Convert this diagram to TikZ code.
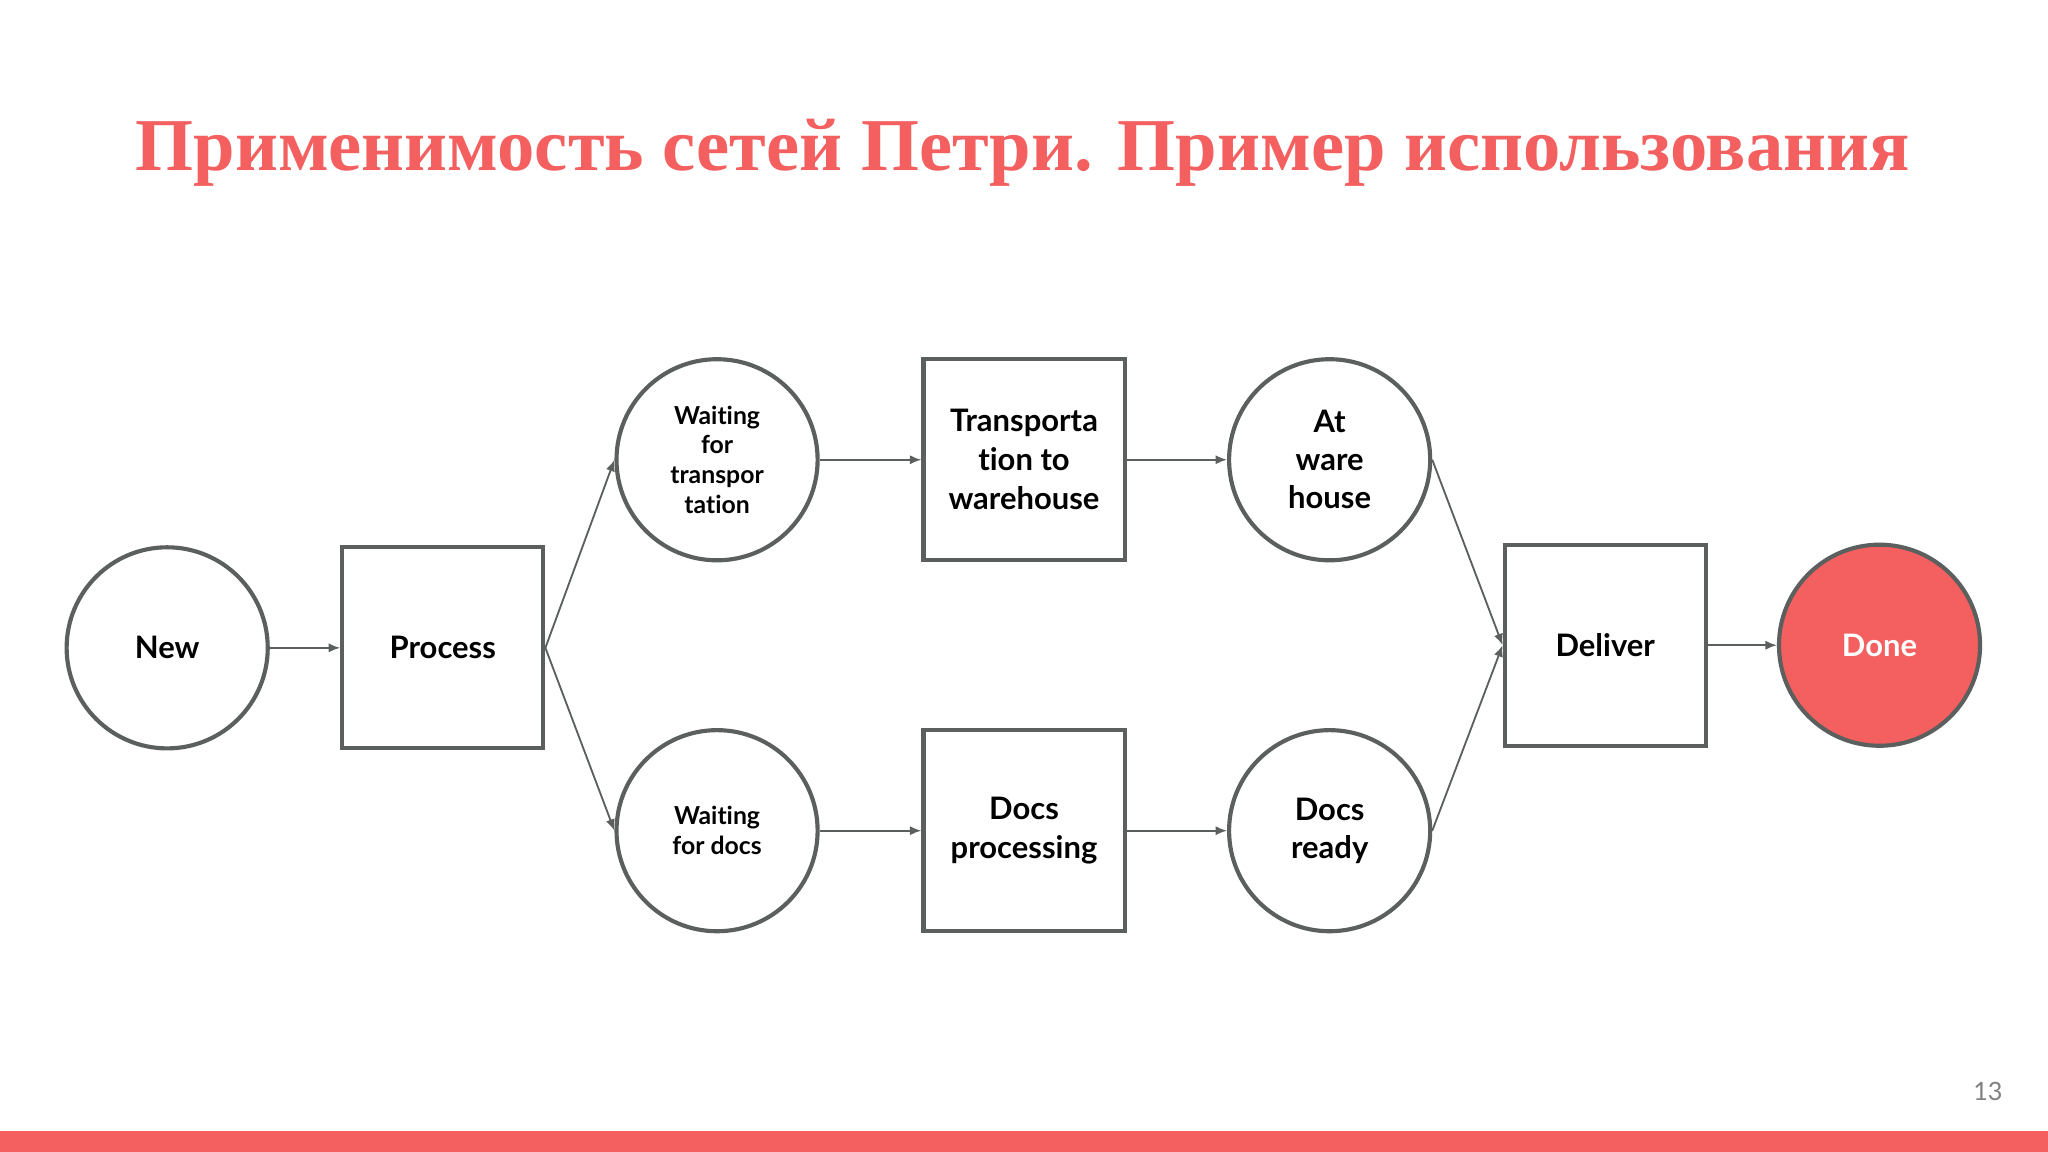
\documentclass[tikz,border=0pt]{standalone}
\usepackage{fontspec}
\setmainfont[Ligatures={NoCommon}]{Lato}
\newfontfamily\titlefont{Liberation Serif}
\usetikzlibrary{arrows.meta}
\definecolor{accent}{HTML}{F45F5F}
\definecolor{edge}{HTML}{5B5F5E}
\tikzset{
  place/.style={circle,draw=edge,line width=1.8pt,minimum size=3.08cm,inner sep=0pt,align=center,font=\bfseries\fontsize{13.5}{16.5}\selectfont},
  trans/.style={rectangle,draw=edge,line width=1.8pt,minimum size=3.08cm,inner sep=0pt,align=center,font=\bfseries\fontsize{13.5}{17}\selectfont},
  small/.style={font=\bfseries\fontsize{10.8}{13}\selectfont},
  arr/.style={draw=edge,line width=0.8pt,-{Latex[length=5pt,width=4pt]}}
}
\begin{document}
\begin{tikzpicture}[x=0.02cm,y=-0.02cm]
\useasboundingbox (0,0) rectangle (1568,882);
\fill[white] (0,0) rectangle (1568,882);
\fill[accent] (0,866) rectangle (1568,882);
\node[text=accent,font=\titlefont\bfseries\fontsize{32.5}{40}\selectfont] (title) at (783,117) {Применимость сетей Петри. Пример использования};
\node[text=gray,font=\fontsize{11}{13}\selectfont] (pg) at (1522,836) {13};
\node[place] (new) at (128,496) {New};
\node[trans] (proc) at (339,496) {Process};
\node[place,small] (wt) at (549,352) {Waiting\\for\\transpor\\tation};
\node[place,small] (wd) at (549,636) {Waiting\\for docs};
\node[trans] (tw) at (784,352) {Transporta\\tion to\\warehouse};
\node[trans] (dp) at (784,636) {Docs\\processing};
\node[place] (aw) at (1018,352) {At\\ware\\house};
\node[place] (dr) at (1018,636) {Docs\\ready};
\node[trans] (del) at (1229,494) {Deliver};
\node[place,fill=accent,text=white] (done) at (1439,494) {Done};
\draw[arr] (new) -- (proc);
\draw[arr] (proc.east) -- (wt.west);
\draw[arr] (proc.east) -- (wd.west);
\draw[arr] (wt) -- (tw);
\draw[arr] (wd) -- (dp);
\draw[arr] (tw) -- (aw);
\draw[arr] (dp) -- (dr);
\draw[arr] (aw.east) -- (del.west);
\draw[arr] (dr.east) -- (del.west);
\draw[arr] (del) -- (done);
\end{tikzpicture}
\end{document}
